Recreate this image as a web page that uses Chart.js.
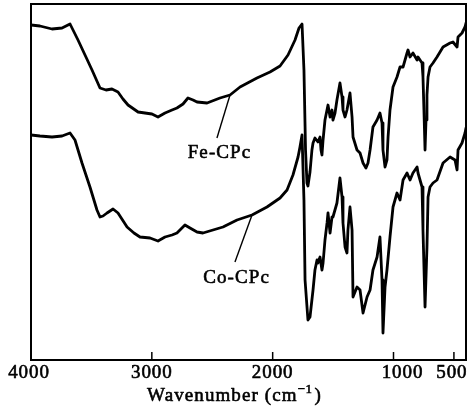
<!DOCTYPE html>
<html>
<head>
<meta charset="utf-8">
<script src="https://cdn.jsdelivr.net/npm/chart.js@4"></script>
<style>
  html, body { margin: 0; padding: 0; background: #fff; }
  #wrap { width: 469px; height: 417px; }
</style>
</head>
<body>
<div id="wrap"><canvas id="ir" width="469" height="417"></canvas></div>
<script>
// FT-IR spectra of the two phthalocyanine samples (transmittance, arbitrary offset units)
const wavenumberTicks = [4000, 3000, 2000, 1000, 500];

const feWavenumber = [4000, 3926, 3826, 3743, 3677, 3611, 3553, 3495, 3429, 3379, 3330, 3280, 3239, 3197, 3114, 3057, 2999, 2949, 2891, 2833, 2792, 2742, 2701, 2659, 2626, 2543, 2436, 2353, 2270, 2130, 2022, 1939, 1873, 1815, 1782, 1757, 1741, 1728, 1716, 1708, 1691, 1675, 1666, 1650, 1625, 1608, 1600, 1592, 1583, 1567, 1542, 1525, 1509, 1501, 1484, 1468, 1443, 1426, 1418, 1401, 1385, 1360, 1343, 1335, 1302, 1277, 1252, 1228, 1211, 1194, 1170, 1136, 1112, 1095, 1087, 1070, 1054, 1045, 1029, 1004, 971, 946, 921, 888, 880, 863, 839, 805, 797, 764, 756, 748, 739, 731, 723, 714, 698, 673, 640, 590, 532, 508, 474, 466, 433, 408, 400];
const feSignal = [83.75, 83.5, 82.75, 83, 84, 80, 76.25, 72.5, 68, 67.5, 67.75, 67, 65.25, 63.75, 62, 61.75, 61.5, 60.75, 61.75, 62.5, 63, 64, 65.5, 65, 64.5, 64.25, 65.5, 66.25, 68.25, 70.5, 72, 73.5, 76.25, 80, 83, 84, 72.5, 52.5, 44.25, 43.5, 47, 52.5, 54.25, 55.5, 54.5, 55.75, 52.5, 51.25, 55, 60, 63.75, 60.75, 62.5, 60, 61.75, 65, 69.25, 65.75, 62.5, 60.75, 62.5, 66.75, 60.75, 55.75, 52.5, 51.75, 49.25, 48, 49.25, 52.5, 58.25, 60, 61.75, 59.25, 52.5, 48.25, 50, 55.75, 62.5, 68.25, 70.75, 73.25, 73.25, 76.75, 77.5, 75.75, 76.75, 75, 75.75, 74.25, 70.75, 62.5, 52.5, 60, 66.25, 70.75, 73.25, 74.25, 75.75, 78.25, 79.25, 79.5, 78.25, 80.75, 81.75, 83.25, 84.25];

const coWavenumber = [4000, 3926, 3826, 3743, 3677, 3636, 3578, 3512, 3454, 3429, 3404, 3371, 3321, 3280, 3205, 3148, 3098, 3015, 2949, 2891, 2833, 2792, 2726, 2684, 2626, 2577, 2494, 2411, 2295, 2171, 2047, 1939, 1881, 1832, 1790, 1774, 1757, 1741, 1732, 1708, 1691, 1666, 1650, 1633, 1625, 1608, 1592, 1583, 1567, 1550, 1542, 1525, 1509, 1501, 1468, 1443, 1426, 1418, 1401, 1385, 1377, 1360, 1343, 1335, 1302, 1277, 1252, 1219, 1194, 1170, 1136, 1112, 1095, 1087, 1070, 1054, 1029, 1004, 971, 946, 921, 888, 863, 839, 805, 797, 764, 756, 739, 723, 714, 698, 673, 640, 590, 532, 491, 474, 466, 433, 408, 400];
const coSignal = [56.25, 56, 55.75, 56, 56.75, 55, 49.25, 43.25, 37.5, 35.75, 36, 36.75, 37.75, 36.75, 33.25, 31.75, 30.75, 30.5, 29.75, 30.75, 31.25, 31.75, 33.75, 33, 32, 31.75, 32.5, 33.25, 35, 36.25, 38.25, 40.5, 42.5, 46.25, 50.75, 53.25, 56.25, 40, 20, 10, 10.75, 17.5, 22.5, 25, 24.25, 25.75, 22.5, 24.25, 30, 34.25, 36.75, 31.75, 35.75, 35.75, 39.25, 45.5, 40.75, 34.25, 28.25, 26.75, 32.5, 38.25, 32.5, 15.75, 18.25, 17.5, 11.75, 15.75, 17.5, 22.5, 25.75, 30.75, 20, 6.75, 18.25, 22.5, 30.75, 38.25, 41.75, 40, 45, 46.75, 45, 46.75, 48.25, 46.75, 43.25, 32.5, 13.25, 28.25, 40.75, 43.25, 44.25, 45, 49.25, 50.75, 50, 47.5, 52.5, 54.25, 56.75, 58];

const seriesNames = ['Fe-CPc', 'Co-CPc'];

const SERIF = '"Liberation Serif", "Times New Roman", Times, serif';
const INK = '#000';

function points(wn, sig) {
  return wn.map((w, i) => ({ x: w, y: sig[i] }));
}

// label callouts: text placed in data coordinates, leader drawn from a point on the curve
const callouts = [
  { series: 0, text: seriesNames[0], at: 2353, tx: 2440, ty: 50.5, lx: 2461, ly: 55.5 },
  { series: 1, text: seriesNames[1], at: 2171, tx: 2299, ty: 19.25, lx: 2312, ly: 24.5 }
];
const labelShift = { 4000: -2, 1000: 9, 500: -2 };

// filled text with a hairline outline for a slightly heavier print look
function inkText(ctx, str, px, py) {
  ctx.fillText(str, px, py);
  ctx.strokeText(str, px, py);
}

const framePlugin = {
  id: 'spectrumFrame',
  afterDatasetsDraw(chart) {
    const { ctx, chartArea: a, scales: { x, y } } = chart;
    ctx.save();
    ctx.strokeStyle = INK;
    ctx.fillStyle = INK;

    // plot frame
    ctx.lineWidth = 2;
    ctx.strokeRect(a.left, a.top, a.right - a.left, a.bottom - a.top);

    // inward tick marks on the wavenumber axis
    ctx.lineWidth = 1.5;
    x.ticks.forEach(t => {
      const px = x.getPixelForValue(t.value);
      if (px > a.left + 2 && px < a.right - 2) {
        ctx.beginPath();
        ctx.moveTo(px, a.bottom);
        ctx.lineTo(px, a.bottom - 8);
        ctx.stroke();
      }
    });

    // tick labels
    ctx.lineWidth = 0.6;
    ctx.lineJoin = 'round';
    ctx.font = '19px ' + SERIF;
    ctx.letterSpacing = '0.9px';
    ctx.textAlign = 'center';
    ctx.textBaseline = 'alphabetic';
    x.ticks.forEach(t => {
      const px = x.getPixelForValue(t.value) + (labelShift[t.value] || 0);
      inkText(ctx, String(t.value), px, a.bottom + 18);
    });

    // axis title with superscript unit
    const main = 'Wavenumber (cm';
    const sup = '\u22121';
    const close = ')';
    ctx.font = '19px ' + SERIF;
    ctx.letterSpacing = '1.1px';
    const wMain = ctx.measureText(main).width;
    const wClose = ctx.measureText(close).width;
    ctx.font = '13px ' + SERIF;
    ctx.letterSpacing = '0.5px';
    const wSup = ctx.measureText(sup).width;
    const total = wMain + wSup + wClose + 2;
    let tx = chart.width / 2 - total / 2;
    const base = a.bottom + 41;
    ctx.textAlign = 'left';
    ctx.font = '19px ' + SERIF;
    ctx.letterSpacing = '1.1px';
    inkText(ctx, main, tx, base);
    tx += wMain;
    ctx.font = '13px ' + SERIF;
    ctx.letterSpacing = '0.5px';
    inkText(ctx, sup, tx, base - 8);
    tx += wSup + 2;
    ctx.font = '19px ' + SERIF;
    ctx.letterSpacing = '1.1px';
    inkText(ctx, close, tx, base);

    // series callouts
    callouts.forEach(c => {
      const ds = chart.data.datasets[c.series].data;
      const p = ds.find(d => d.x === c.at);
      ctx.lineWidth = 1.4;
      ctx.beginPath();
      ctx.moveTo(x.getPixelForValue(p.x), y.getPixelForValue(p.y));
      ctx.lineTo(x.getPixelForValue(c.lx), y.getPixelForValue(c.ly));
      ctx.stroke();
      ctx.lineWidth = 0.6;
      ctx.font = '19px ' + SERIF;
      ctx.letterSpacing = '1.1px';
      ctx.textAlign = 'center';
      inkText(ctx, c.text, x.getPixelForValue(c.tx), y.getPixelForValue(c.ty));
    });

    ctx.restore();
  }
};

const lineStyle = {
  borderColor: INK,
  borderWidth: 2.8,
  pointRadius: 0,
  tension: 0,
  fill: false,
  borderJoinStyle: 'round',
  borderCapStyle: 'round'
};

new Chart(document.getElementById('ir'), {
  type: 'line',
  data: {
    datasets: [
      Object.assign({ label: seriesNames[0], data: points(feWavenumber, feSignal) }, lineStyle),
      Object.assign({ label: seriesNames[1], data: points(coWavenumber, coSignal) }, lineStyle)
    ]
  },
  options: {
    responsive: false,
    animation: false,
    devicePixelRatio: 1,
    parsing: false,
    layout: { padding: { left: 31, top: 4, right: 3, bottom: 0 } },
    plugins: { legend: { display: false }, tooltip: { enabled: false } },
    scales: {
      x: {
        type: 'linear',
        reverse: true,
        min: 400,
        max: 4000,
        grid: { display: false },
        border: { display: false },
        ticks: { display: false },
        afterBuildTicks: s => { s.ticks = wavenumberTicks.map(v => ({ value: v })); },
        afterFit: s => { s.height = 57; }
      },
      y: { display: false, min: 0, max: 89 }
    }
  },
  plugins: [framePlugin]
});
</script>
</body>
</html>
